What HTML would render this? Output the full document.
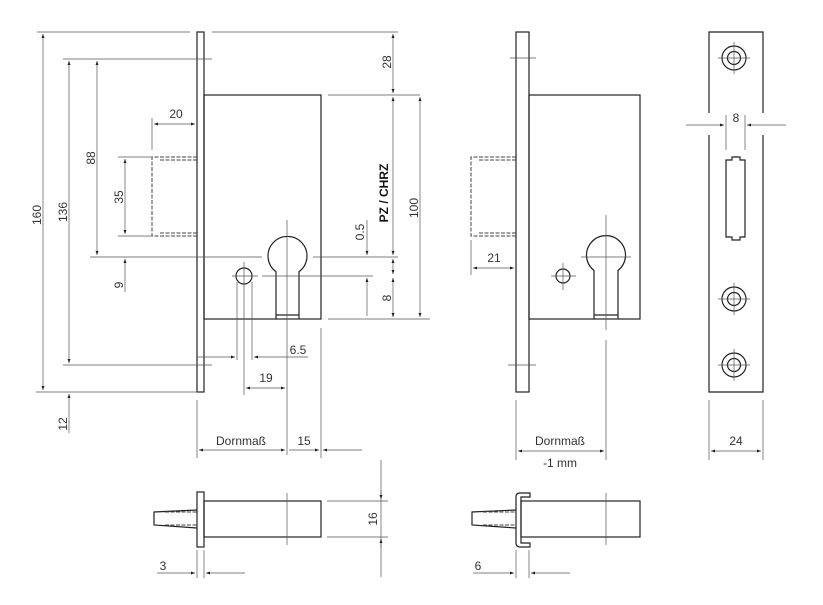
<!DOCTYPE html>
<html><head><meta charset="utf-8"><style>
html,body{margin:0;padding:0;background:#fff}
svg{display:block}
text{font-family:"Liberation Sans","DejaVu Sans",sans-serif;font-size:12px;fill:#333}
.o{stroke:#222;stroke-width:1.2;fill:none}
.d{stroke:#555;stroke-width:0.7;fill:none}
.h{stroke:#444;stroke-width:1;fill:none;stroke-dasharray:4 1.5}
</style></head><body>
<svg width="823" height="605" viewBox="0 0 823 605" xmlns="http://www.w3.org/2000/svg">
<defs>
<marker id="a" viewBox="0 0 8 6" refX="8" refY="3" markerWidth="6" markerHeight="4.5" orient="auto-start-reverse"><path d="M0,0 L8,3 L0,6z" fill="#222"/></marker>
</defs>
<!-- VIEW 1 -->
<rect class="o" x="197" y="32" width="7" height="360"/>
<rect class="o" x="204" y="95" width="117" height="224"/>
<path class="h" d="M197,157 H152 V236 H197 M160,160 H197 M160,233 H197"/>
<path class="o" d="M276,319 V271.7 A19.5,19.5 0 1 1 299,271.7 V319 M276,315 H299"/>
<circle class="o" cx="244" cy="276" r="8"/>
<!-- dims view1 -->
<path class="d" d="M37,32 H190 M212,32 H398 M63,59 H212 M63,365 H212 M90,257 H262 M313,257 H398 M232,276 H258 M262,276 H373 M118,157 H152 M118,236 H152 M328,95 H420 M328,319 H430 M36,392 H197"/>
<path class="d" d="M43,34 V390" marker-start="url(#a)" marker-end="url(#a)"/>
<path class="d" d="M69,61 V363" marker-start="url(#a)" marker-end="url(#a)"/>
<path class="d" d="M69,433 V394" marker-end="url(#a)"/>
<path class="d" d="M97,61 V255" marker-start="url(#a)" marker-end="url(#a)"/>
<path class="d" d="M125,159 V234" marker-start="url(#a)" marker-end="url(#a)"/>
<path class="d" d="M125,292 V259" marker-end="url(#a)"/>
<path class="d" d="M393,34 V93" marker-start="url(#a)" marker-end="url(#a)"/>
<path class="d" d="M393,97 V255" marker-start="url(#a)" marker-end="url(#a)"/>
<path class="d" d="M393,259 V274" marker-start="url(#a)" marker-end="url(#a)"/>
<path class="d" d="M393,278 V317" marker-start="url(#a)" marker-end="url(#a)"/>
<path class="d" d="M367,220 V255" marker-end="url(#a)"/>
<path class="d" d="M367,316 V278" marker-end="url(#a)"/>
<path class="d" d="M420,97 V317" marker-start="url(#a)" marker-end="url(#a)"/>
<path class="d" d="M152,118 V150"/>
<path class="d" d="M154,124 H195" marker-start="url(#a)" marker-end="url(#a)"/>
<path class="d" d="M287,220 V455 M237,282 V360 M252,282 V360 M244,262 V395 M197,400 V458 M321,328 V458"/>
<path class="d" d="M197,357 H235" marker-end="url(#a)"/>
<path class="d" d="M308,357 H254" marker-end="url(#a)"/>
<path class="d" d="M246,388 H285" marker-start="url(#a)" marker-end="url(#a)"/>
<path class="d" d="M199,450 H285" marker-start="url(#a)" marker-end="url(#a)"/>
<path class="d" d="M289,450 H319" marker-end="url(#a)"/>
<path class="d" d="M362,450 H323" marker-end="url(#a)"/>
<text x="176" y="118" text-anchor="middle">20</text>
<text x="298" y="354" text-anchor="middle">6.5</text>
<text x="266" y="382" text-anchor="middle">19</text>
<text x="241" y="445" text-anchor="middle">Dornmaß</text>
<text x="304" y="445" text-anchor="middle">15</text>
<g text-anchor="middle">
<text transform="translate(41,215) rotate(-90)">160</text>
<text transform="translate(67,212) rotate(-90)">136</text>
<text transform="translate(95,158) rotate(-90)">88</text>
<text transform="translate(123,197) rotate(-90)">35</text>
<text transform="translate(123,285) rotate(-90)">9</text>
<text transform="translate(67,424) rotate(-90)">12</text>
<text transform="translate(391,62) rotate(-90)">28</text>
<text transform="translate(418,208) rotate(-90)">100</text>
<text transform="translate(364,232) rotate(-90)">0.5</text>
<text transform="translate(391,298) rotate(-90)">8</text>
<text transform="translate(388,193) rotate(-90)" style="font-weight:bold;fill:#111">PZ / CHRZ</text>
</g>
<!-- VIEW 2 -->
<rect class="o" x="516" y="32" width="13" height="360"/>
<rect class="o" x="529" y="95" width="111" height="224"/>
<path class="h" d="M516,157 H471 V236 H516 M479,160 H516 M479,233 H516"/>
<path class="o" d="M594,319 V270.5 A19.5,19.5 0 1 1 618,270.5 V319 M594,315 H618"/>
<circle class="o" cx="563" cy="276" r="7"/>
<path class="d" d="M510,58 H536 M508,365 H536 M551,276 H576 M563,263 H563 V290 M581,257 H631 M606,215 V330 M606,340 V460 M471,240 V275 M516,400 V460"/>
<path class="d" d="M473,268 H514" marker-start="url(#a)" marker-end="url(#a)"/>
<path class="d" d="M518,451 H604" marker-start="url(#a)" marker-end="url(#a)"/>
<text x="494" y="262" text-anchor="middle">21</text>
<text x="560" y="445" text-anchor="middle">Dornmaß</text>
<text x="560" y="467" text-anchor="middle">-1 mm</text>
<!-- VIEW 3 -->
<path class="o" d="M709,113 V32 H763 V113 M709,135 V392 H763 V135"/>
<g class="o">
<circle cx="734" cy="58" r="12"/><circle cx="734" cy="58" r="6.5"/>
<circle cx="734" cy="299" r="12"/><circle cx="734" cy="299" r="6.5"/>
<circle cx="734" cy="365" r="12"/><circle cx="734" cy="365" r="6.5"/>
</g>
<path class="d" d="M718,58 H750 M734,42 V74 M718,299 H750 M734,283 V315 M718,365 H750 M734,349 V381"/>
<path class="o" d="M726,160 H732 V157 H740 V160 H745 V237 H740 V240 H732 V237 H726 Z"/>
<path class="d" d="M726,115 V150 M745,115 V150 M709,400 V460 M763,400 V460"/>
<path class="d" d="M686,125 H724" marker-end="url(#a)"/>
<path class="d" d="M786,125 H747" marker-end="url(#a)"/>
<path class="d" d="M711,451 H761" marker-start="url(#a)" marker-end="url(#a)"/>
<text x="736" y="122" text-anchor="middle">8</text>
<text x="736" y="445" text-anchor="middle">24</text>
<!-- BOTTOM 1 -->
<rect class="o" x="197" y="492" width="7" height="55"/>
<rect class="o" x="204" y="501" width="117" height="36"/>
<path class="o" d="M197,510 L154,512 V525 L197,528"/>
<path class="h" d="M165,512 H197 M165,525 H197"/>
<path class="d" d="M287,493 V545 M327,501 H388 M327,537 H388 M197,550 V578 M204,550 V578 M381,460 V577"/>
<path class="d" d="M381,490 V499" marker-end="url(#a)"/>
<path class="d" d="M381,548 V539" marker-end="url(#a)"/>
<path class="d" d="M157,573 H195" marker-end="url(#a)"/>
<path class="d" d="M245,573 H206" marker-end="url(#a)"/>
<text transform="translate(377,519) rotate(-90)" text-anchor="middle">16</text>
<text x="163" y="570" text-anchor="middle">3</text>
<!-- BOTTOM 2 -->
<path class="o" d="M530,493 H520 Q516,493 516,497 V543 Q516,547 520,547 H530 V543 H521 V497 H530 Z"/>
<rect class="o" x="521" y="501" width="119" height="36"/>
<path class="o" d="M516,510 L472,512 V525 L516,528"/>
<path class="h" d="M483,512 H516 M483,525 H516"/>
<path class="d" d="M606,493 V545 M516,550 V578 M529,550 V578"/>
<path class="d" d="M473,573 H514" marker-end="url(#a)"/>
<path class="d" d="M570,573 H531" marker-end="url(#a)"/>
<text x="478" y="570" text-anchor="middle">6</text>
</svg>
</body></html>
